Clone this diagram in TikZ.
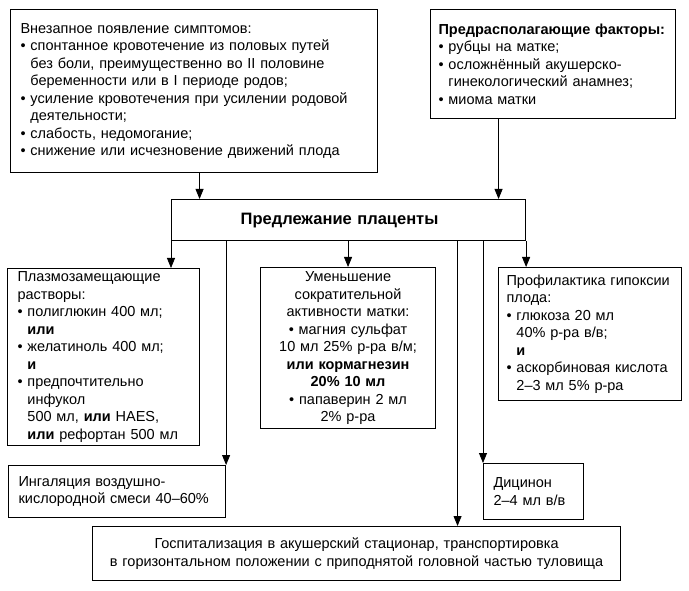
\documentclass[tikz,border=0pt]{standalone}
\usepackage{fontspec}
\setmainfont{Liberation Sans}
\usetikzlibrary{arrows.meta, positioning}
\newcommand{\bul}{\textbullet\ }
\newcommand{\bulind}{\hphantom{\textbullet\ }}

\begin{document}
\begin{tikzpicture}[x=1pt, y=-1pt,
        box/.style={rectangle, draw, line width=1.1pt, anchor=north west, align=left, inner xsep=10pt, inner ysep=0pt, font=\fontsize{14.5}{17.5}\selectfont},
        arrow/.style={-{Triangle[length=10pt, width=8pt]}, line width=0.8pt}
    ]
        \useasboundingbox (0,0) rectangle (689,591);

        \node[box, text width=347pt, minimum height=163pt] (symp) at (10,9) {Внезапное появление симптомов:\\
            \bul спонтанное кровотечение из половых путей\\
            \bulind без боли, преимущественно во II половине\\
            \bulind беременности или в I периоде родов;\\
            \bul усиление кровотечения при усилении родовой\\
            \bulind деятельности;\\
            \bul слабость, недомогание;\\
            \bul снижение или исчезновение движений плода};
        \node[box, inner xsep=8pt, text width=229pt, minimum height=109pt] (fact) at (430,9) {\mbox{\textbf{Предрасполагающие факторы:}}\\
            \bul рубцы на матке;\\
            \bul осложнённый акушерско-\\
            \bulind гинекологический анамнез;\\
            \bul миома матки};
        \node[box, align=center, text width=334pt, minimum height=41pt, font=\fontsize{16.5}{19}\selectfont\bfseries] (main) at (171,199) {\hspace*{-18pt}Предлежание плаценты};

        \node[box, text width=172pt, minimum height=177pt] (plasma) at (7,268) {Плазмозамещающие\\
            растворы:\\
            \bul полиглюкин 400 мл;\\
            \bulind\textbf{или}\\
            \bul желатиноль 400 мл;\\
            \bulind\textbf{и}\\
            \bul предпочтительно\\
            \bulind инфукол\\
            \bulind 500 мл, \textbf{или} HAES,\\
            \bulind\textbf{или} рефортан 500 мл};
        \node[box, align=center, text width=155pt, minimum height=161pt] (uterus) at (260,267) {Уменьшение\\
            сократительной\\
            активности матки:\\
            \bul магния сульфат\\
            10 мл 25\% р-ра в/м;\\
            \textbf{или кормагнезин}\\
            \textbf{20\% 10 мл}\\
            \bul папаверин 2 мл\\
            2\% р-ра};
        \node[box, inner xsep=8pt, text width=167pt, minimum height=133pt] (hypox) at (498,267) {\mbox{Профилактика гипоксии}\\
            плода:\\
            \bul глюкоза 20 мл\\
            \bulind 40\% р-ра в/в;\\
            \bulind\textbf{и}\\
            \bul аскорбиновая кислота\\
            \bulind 2--3 мл 5\% р-ра};

        \node[box, text width=197pt, minimum height=52pt] (ingal) at (8,465) {Ингаляция воздушно-\\
            кислородной смеси 40--60\%};
        \node[box, text width=80pt, minimum height=56pt] (dicin) at (483,463) {Дицинон\\
            2--4 мл в/в};
        \node[box, align=center, text width=508pt, minimum height=54pt] (hosp) at (92,526) {Госпитализация в акушерский стационар, транспортировка\\
            в горизонтальном положении с приподнятой головной частью туловища};

        \draw[arrow] ([xshift=5.5pt]symp.south) -- ([xshift=5.5pt]symp.south |- main.north);
        \draw[arrow] ([xshift=-54.5pt]fact.south) -- ([xshift=-54.5pt]fact.south |- main.north);
        \draw[arrow] (main.south west) -- (main.south west |- plasma.north);
        \draw[arrow] (main.south -| uterus.north) -- (uterus.north);
        \draw[arrow] (main.south east) -- (main.south east |- hypox.north);
        \draw[arrow] (main.south -| ingal.north east) -- (ingal.north east);
        \draw[arrow] ([xshift=109pt]main.south) -- ([xshift=109pt]main.south |- hosp.north);
        \draw[arrow] (main.south -| dicin.north west) -- (dicin.north west);
    \end{tikzpicture}
\end{document}
